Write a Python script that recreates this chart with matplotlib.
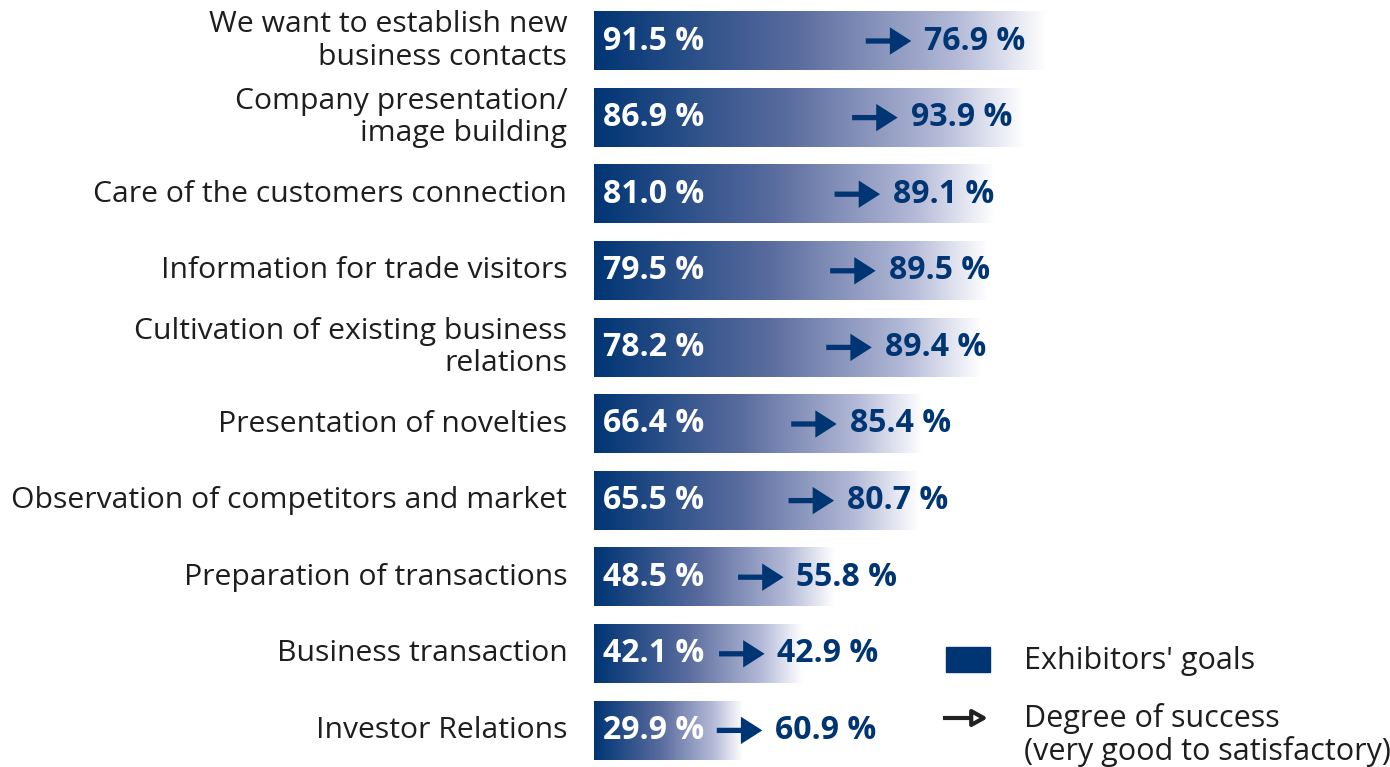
import numpy as np
import matplotlib
matplotlib.use("Agg")
import matplotlib.pyplot as plt
from matplotlib.colors import LinearSegmentedColormap
from matplotlib.patches import Rectangle

plt.rcParams['font.family'] = ['Open Sans', 'DejaVu Sans']

categories = [
    "We want to establish new\nbusiness contacts",
    "Company presentation/\nimage building",
    "Care of the customers connection",
    "Information for trade visitors",
    "Cultivation of existing business\nrelations",
    "Presentation of novelties",
    "Observation of competitors and market",
    "Preparation of transactions",
    "Business transaction",
    "Investor Relations",
]
goals = [91.5, 86.9, 81.0, 79.5, 78.2, 66.4, 65.5, 48.5, 42.1, 29.9]
success = [76.9, 93.9, 89.1, 89.5, 89.4, 85.4, 80.7, 55.8, 42.9, 60.9]

NAVY = "#003574"
TEXT = "#1e1e1e"

W, H = 1390, 767
fig = plt.figure(figsize=(W / 100, H / 100), dpi=100)
ax = fig.add_axes([0, 0, 1, 1])
ax.axis("off")

# pixel layout -> data units (percent on x, row index on y)
px_per_pct = 4.95
x0_px = 594
xmin = -x0_px / px_per_pct
xmax = (W - x0_px) / px_per_pct
row_h = 76.6
top_px = 41
ymin = -top_px / row_h
ymax = (H - top_px) / row_h

cmap = LinearSegmentedColormap.from_list(
    "fade", [(0.0, NAVY), (0.45, "#5a6c9e"), (0.8, "#b3b9d7"), (1.0, "#ffffff")])
grad = np.linspace(0, 1, 256).reshape(1, -1)

bar_half = 0.38
for i, (cat, g, s) in enumerate(zip(categories, goals, success)):
    ax.imshow(grad, cmap=cmap, aspect="auto", interpolation="bilinear",
              extent=[0, g, i + bar_half, i - bar_half], zorder=1)
    ax.text(1.9, i, f"{g:.1f} %", color="white", fontweight="bold",
            fontsize=23, ha="left", va="center", zorder=3)
    ax.text(-5.4, i, cat, color=TEXT, fontsize=21.7, ha="right", va="center",
            linespacing=1.14)
    a0 = max(0.6 * g, 24.8)
    a1 = a0 + 9.2
    ax.annotate("", xy=(a1, i), xytext=(a0, i),
                arrowprops=dict(arrowstyle="-|>,head_length=0.5,head_width=0.32",
                                color=NAVY, lw=3.8, shrinkA=0, shrinkB=0,
                                mutation_scale=20, capstyle="butt",
                                joinstyle="miter"), zorder=3)
    ax.text(a1 + 2.6, i, f"{s:.1f} %", color=NAVY, fontweight="bold",
            fontsize=23, ha="left", va="center", zorder=3)

ax.set_xlim(xmin, xmax)
ax.set_ylim(ymax, ymin)

# legend
def fx(px):
    return px / W

def fy(py):
    return 1 - py / H

fig.patches.append(Rectangle((fx(946), fy(672)), fx(990) - fx(946), fy(647) - fy(672),
                             transform=fig.transFigure, color=NAVY, zorder=5))
fig.text(fx(1024), fy(661), "Exhibitors' goals", color=TEXT, fontsize=22,
         ha="left", va="center")
ax.annotate("", xy=(fx(988), fy(718)), xytext=(fx(943), fy(718)),
            xycoords="figure fraction", textcoords="figure fraction",
            arrowprops=dict(arrowstyle="-|>,head_length=0.45,head_width=0.25",
                            facecolor="white", edgecolor="#222222", lw=3,
                            shrinkA=0, shrinkB=0, mutation_scale=20,
                            capstyle="butt"))
fig.text(fx(1024), fy(735), "Degree of success\n(very good to satisfactory)",
         color=TEXT, fontsize=22, ha="left", va="center", linespacing=1.08)

fig.savefig("out.png", dpi=100)
